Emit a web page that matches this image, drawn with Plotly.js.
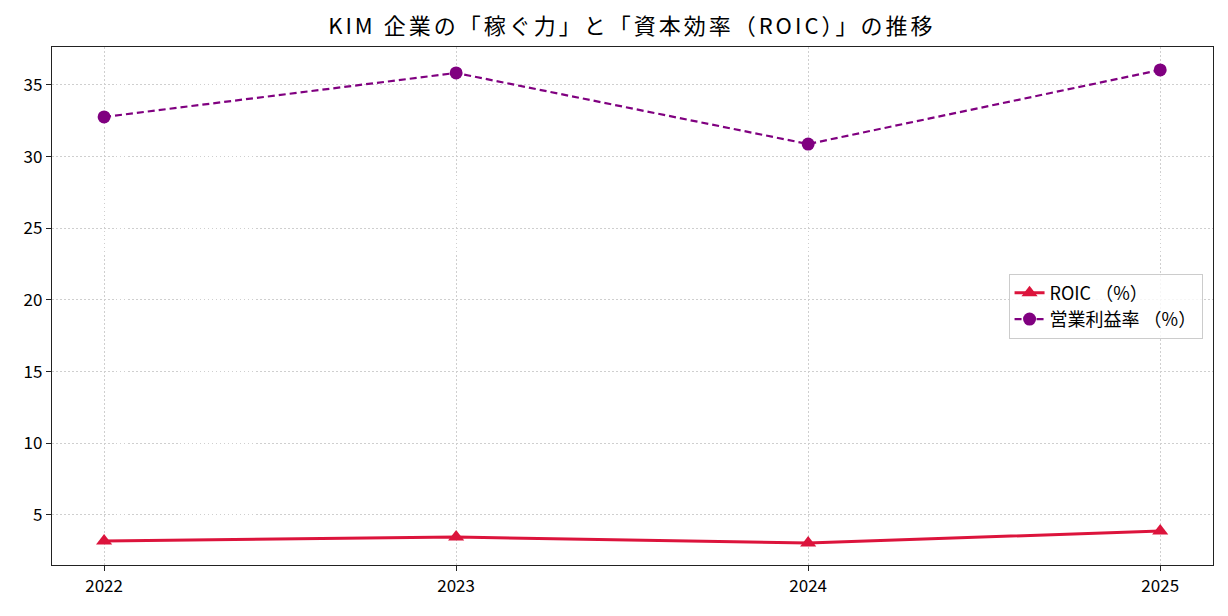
<!DOCTYPE html>
<html>
<head>
<meta charset="utf-8">
<script src="https://cdn.plot.ly/plotly-3.0.1.min.js"></script>
<style>html,body{margin:0;padding:0;background:#fff;}#chart{width:1228px;height:616px;} .gtitle{letter-spacing:3px;}</style>
</head>
<body>
<div id="chart"></div>
<script>
const years = [2022, 2023, 2024, 2025];
const tickLabels = ["2022", "2023", "2024", "2025"];
const roic = [3.19, 3.46, 3.05, 3.88];
const opMargin = [32.77, 35.84, 30.88, 36.05];
const seriesNames = ["ROIC （%）", "営業利益率 （%）"];
const titleText = "KIM 企業の「稼ぐ力」と「資本効率（ROIC）」の推移";

const FONT = '"Noto Sans CJK JP", "Noto Sans", sans-serif';

const traces = [
  {
    x: years, y: roic, name: seriesNames[0], type: 'scatter', mode: 'lines+markers',
    line: {color: '#DC143C', width: 3},
    marker: {symbol: 'triangle-up', size: 14, color: '#DC143C'}
  },
  {
    x: years, y: opMargin, name: seriesNames[1], type: 'scatter', mode: 'lines+markers',
    line: {color: '#800080', width: 2.2, dash: '7px,4px'},
    marker: {symbol: 'circle', size: 13, color: '#800080'}
  }
];

const layout = {
  width: 1228, height: 616,
  margin: {l: 52, r: 15, t: 47, b: 51},
  paper_bgcolor: '#fff', plot_bgcolor: '#fff',
  font: {family: FONT, size: 17, color: '#000'},
  title: {text: titleText, font: {family: FONT, size: 22, color: '#000'}, xref: 'container', x: 0.5145, xanchor: 'center', yref: 'container', y: 0.958, yanchor: 'middle'},
  xaxis: {
    range: [2021.852, 2025.15], tickvals: years, ticktext: tickLabels,
    showgrid: true, gridcolor: '#cfcfcf', griddash: '1.5px,2.5px', gridwidth: 1,
    showline: true, linecolor: '#222', linewidth: 1.3, mirror: true,
    ticks: 'outside', ticklen: 5, tickcolor: '#222', zeroline: false,
    tickfont: {size: 17}
  },
  yaxis: {
    range: [1.51, 37.65], tickvals: [5, 10, 15, 20, 25, 30, 35],
    showgrid: true, gridcolor: '#cfcfcf', griddash: '1.5px,2.5px', gridwidth: 1,
    showline: true, linecolor: '#222', linewidth: 1.3, mirror: true,
    ticks: 'outside', ticklen: 5, tickcolor: '#222', zeroline: false,
    tickfont: {size: 17}
  },
  showlegend: true,
  legend: {
    x: 0.991, xanchor: 'right', y: 0.5, yanchor: 'middle',
    bgcolor: 'rgba(255,255,255,0.8)', bordercolor: '#cccccc', borderwidth: 1,
    font: {size: 18}, tracegroupgap: 0
  }
};

Plotly.newPlot('chart', traces, layout, {displayModeBar: false});
</script>
</body>
</html>
